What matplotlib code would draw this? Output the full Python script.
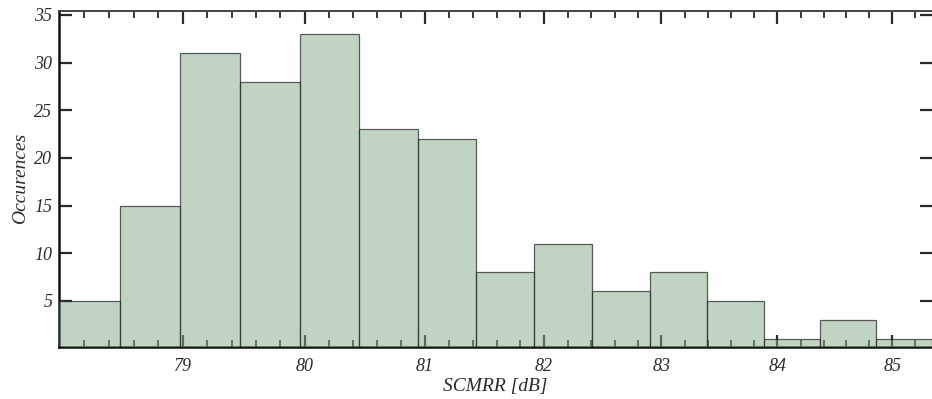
import matplotlib.pyplot as plt
from matplotlib.ticker import FixedLocator, NullFormatter, NullLocator
import numpy as np

# histogram of SCMRR values: bin edges [dB] and counts per bin
bin_edges = [78.00, 78.49, 78.98, 79.47, 79.96, 80.45, 80.94, 81.43,
             81.92, 82.41, 82.90, 83.39, 83.88, 84.37, 84.86, 85.35]
counts = [5, 15, 31, 28, 33, 23, 22, 8, 11, 6, 8, 5, 1, 3, 1]

x_major = [79, 80, 81, 82, 83, 84, 85]
y_major = [5, 10, 15, 20, 25, 30, 35]

plt.rcParams['font.family'] = ['Liberation Serif', 'DejaVu Serif']
plt.rcParams['font.style'] = 'italic'

fig = plt.figure(figsize=(9.32, 3.99), dpi=100)
ax = fig.add_axes([0.0636, 0.131, 0.9364, 0.8414])

edges = np.array(bin_edges)
ax.bar(edges[:-1], counts, width=np.diff(edges), align='edge',
       facecolor=(0.52, 0.67, 0.54, 0.5), edgecolor=(0.15, 0.17, 0.15, 0.75),
       linewidth=0.9, zorder=3)

ax.set_xscale('log')
ax.set_xlim(bin_edges[0], bin_edges[-1])
ax.set_ylim(0.2, 35.4)

ax.xaxis.set_major_locator(FixedLocator(x_major))
ax.xaxis.set_major_formatter(plt.FixedFormatter([str(v) for v in x_major]))
minor = [v / 10 for v in range(780, 854, 2) if v % 10 != 0]
ax.xaxis.set_minor_locator(FixedLocator(minor))
ax.xaxis.set_minor_formatter(NullFormatter())
ax.yaxis.set_major_locator(FixedLocator(y_major))
ax.yaxis.set_minor_locator(NullLocator())

ax.tick_params(which='both', direction='in', top=True, right=True,
               labelsize=13, colors='#2a2a2a', pad=8)
ax.tick_params(which='major', length=9, width=1.6)
ax.tick_params(which='minor', length=5, width=1.3)
ax.tick_params(axis='y', pad=5)

for side in ('left', 'bottom'):
    ax.spines[side].set_linewidth(1.8)
    ax.spines[side].set_color('#111111')
ax.spines['top'].set_linewidth(1.4)
ax.spines['top'].set_color('#444444')
ax.spines['right'].set_visible(False)

ax.set_xlabel('SCMRR [dB]', fontsize=14, labelpad=2, color='#2a2a2a')
ax.set_ylabel('Occurences', fontsize=14, labelpad=4, color='#2a2a2a')

fig.savefig('out.png', dpi=100)
